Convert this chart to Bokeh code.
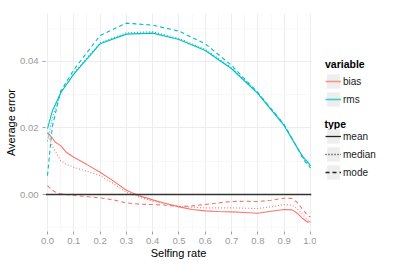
import numpy as np
from bokeh.plotting import figure
from bokeh.layouts import row
from bokeh.models import (Range1d, FixedTicker, PrintfTickFormatter, Legend,
                          LegendItem, Span, ColumnDataSource, Label)
from bokeh.embed import file_html
from bokeh.resources import INLINE

# ---------------- data ----------------
rms_x = [0.0, 0.018, 0.05, 0.1, 0.2, 0.3, 0.4, 0.5, 0.6, 0.7, 0.8, 0.9, 0.95, 0.97, 0.98, 0.99, 1.0]
rms_mean = [0.0198, 0.0250, 0.0305, 0.0362, 0.0453, 0.0482, 0.0485, 0.0466, 0.0433, 0.0378,
            0.0303, 0.0207, 0.0140, 0.0115, 0.0105, 0.0098, 0.0086]
rms_median = [0.0160, 0.0230, 0.0305, 0.0365, 0.0456, 0.0486, 0.0489, 0.0469, 0.0436, 0.0381,
              0.0306, 0.0209, 0.0141, 0.0113, 0.0102, 0.0094, 0.0082]
rms_mode = [0.0057, 0.0203, 0.0310, 0.0375, 0.0478, 0.0515, 0.0509, 0.0491, 0.0453, 0.0388,
            0.0306, 0.0210, 0.0140, 0.0110, 0.0098, 0.0092, 0.0079]

bias_x = [0.0, 0.02, 0.03, 0.05, 0.07, 0.1, 0.15, 0.2, 0.25, 0.3, 0.35, 0.4, 0.45, 0.5, 0.55,
          0.6, 0.65, 0.7, 0.75, 0.8, 0.85, 0.9, 0.93, 0.95, 0.97, 0.99, 1.0]
bias_mean = [0.0187, 0.0168, 0.0157, 0.0147, 0.0128, 0.0112, 0.0090, 0.0067, 0.0041, 0.0013,
             -0.0004, -0.0016, -0.0027, -0.0037, -0.0045, -0.0049, -0.0051, -0.0052, -0.0054,
             -0.0056, -0.0050, -0.0045, -0.0046, -0.0056, -0.0072, -0.0083, -0.0081]
bias_median = [0.0185, 0.0143, 0.0130, 0.0102, 0.0092, 0.0082, 0.0070, 0.0057, 0.0033, 0.0007,
               -0.0008, -0.0020, -0.0028, -0.0035, -0.0038, -0.0040, -0.0040, -0.0040, -0.0041,
               -0.0042, -0.0037, -0.0030, -0.0032, -0.0043, -0.0060, -0.0077, -0.0076]
bias_mode = [0.0027, 0.0012, 0.0008, 0.0002, 0.0, -0.0003, -0.0006, -0.0010, -0.0016, -0.0025,
             -0.0029, -0.0030, -0.0032, -0.0036, -0.0034, -0.0030, -0.0025, -0.0021, -0.0020,
             -0.0021, -0.0017, -0.0011, -0.0012, -0.0024, -0.0044, -0.0064, -0.0067]

x_ticks = [0.0, 0.1, 0.2, 0.3, 0.4, 0.5, 0.6, 0.7, 0.8, 0.9, 1.0]
x_minor = [0.05, 0.15, 0.25, 0.35, 0.45, 0.55, 0.65, 0.75, 0.85, 0.95]
y_ticks = [0.0, 0.02, 0.04]
y_minor = [-0.01, 0.01, 0.03, 0.05]
hline_y = 0.0

variables = ["bias", "rms"]
types = ["mean", "median", "mode"]
var_colors = {"bias": "#F8766D", "rms": "#00BFC4"}
type_dash = {"mean": "solid", "median": "1 2", "mode": "4 3"}

FONT = "Liberation Sans"

# ---------------- main figure ----------------
p = figure(width=316, height=266, output_backend="svg", toolbar_location=None,
           x_range=Range1d(-0.0076, 1.0038), y_range=Range1d(-0.0111, 0.0544),
           min_border_left=45, min_border_right=5, min_border_top=13, min_border_bottom=35)
p.outline_line_color = None
p.background_fill_color = "white"
p.border_fill_color = "white"

p.xaxis.ticker = FixedTicker(ticks=x_ticks, minor_ticks=x_minor)
p.yaxis.ticker = FixedTicker(ticks=y_ticks, minor_ticks=y_minor)
p.xaxis.formatter = PrintfTickFormatter(format="%.1f")
p.yaxis.formatter = PrintfTickFormatter(format="%.2f")

for ax in (p.xaxis, p.yaxis):
    ax.axis_line_color = None
    ax.major_tick_line_color = "#A0A0A0"
    ax.major_tick_in = 0
    ax.major_tick_out = 3
    ax.minor_tick_in = 0
    ax.minor_tick_out = 0
    ax.major_label_text_font = FONT
    ax.major_label_text_font_size = "9.5px"
    ax.major_label_text_color = "#9A9A9A"
    ax.axis_label_text_font = FONT
    ax.axis_label_text_font_size = "11px"
    ax.axis_label_text_font_style = "normal"
    ax.axis_label_text_color = "#000000"
    ax.axis_label_standoff = 0

p.yaxis.major_label_standoff = 4
p.xaxis.major_label_standoff = 3

p.xaxis.axis_label = "Selfing rate"
p.yaxis.axis_label = "Average error"

for g in (p.xgrid, p.ygrid):
    g.grid_line_color = "#EBEBEB"
    g.grid_line_width = 0.9
    g.minor_grid_line_color = "#F4F4F4"
    g.minor_grid_line_width = 0.6

series = {
    ("bias", "mean"): (bias_x, bias_mean),
    ("bias", "median"): (bias_x, bias_median),
    ("bias", "mode"): (bias_x, bias_mode),
    ("rms", "mean"): (rms_x, rms_mean),
    ("rms", "median"): (rms_x, rms_median),
    ("rms", "mode"): (rms_x, rms_mode),
}
for (var, typ), (xs, ys) in series.items():
    p.line(xs, ys, line_color=var_colors[var], line_dash=type_dash[typ], line_width=1.1)

p.add_layout(Span(location=hline_y, dimension="width", line_color="#333333", line_width=1.4))

# ---------------- legend figure ----------------
q = figure(width=83, height=266, output_backend="svg", toolbar_location=None,
           x_range=Range1d(0, 1), y_range=Range1d(0, 1), x_axis_type=None, y_axis_type=None,
           min_border_left=0, min_border_right=0, min_border_top=0, min_border_bottom=0)
q.outline_line_color = None
q.grid.visible = False
q.background_fill_color = "white"
q.border_fill_color = "white"

# invisible placeholder data (NaN) so that legend keys are drawn
dummy = ColumnDataSource(data=dict(x=np.array([np.nan]), y=np.array([np.nan])))
def key_bg():
    return q.rect(x="x", y="y", width=1, height=1, source=dummy,
                  fill_color="#EEEEEE", line_color=None)

var_items = []
for var in variables:
    bg = key_bg()
    ln = q.line(x="x", y="y", source=dummy, line_color=var_colors[var], line_width=1.6,
                line_alpha=0.75)
    var_items.append(LegendItem(label=var, renderers=[bg, ln]))
type_items = []
for typ in types:
    bg = key_bg()
    ln = q.line(x="x", y="y", source=dummy, line_color="#222222", line_dash=type_dash[typ],
                line_width=1.3)
    type_items.append(LegendItem(label=typ, renderers=[bg, ln]))

def make_legend(items, title, loc, standoff):
    lg = Legend(items=items, location=loc, orientation="vertical")
    if title:
        lg.title = title
    lg.title_text_font = FONT
    lg.title_text_font_size = "10.5px"
    lg.title_text_font_style = "bold"
    lg.title_text_color = "#000000"
    lg.title_standoff = standoff
    lg.label_text_font = FONT
    lg.label_text_font_size = "10px"
    lg.label_text_color = "#1A1A1A"
    lg.label_standoff = 2
    lg.label_height = 16
    lg.glyph_width = 16
    lg.glyph_height = 18
    lg.spacing = -2
    lg.padding = 0
    lg.margin = 0
    lg.border_line_color = None
    lg.background_fill_alpha = 0
    lg.click_policy = "none"
    return lg

q.add_layout(make_legend(var_items, "variable", (9, 123), 2))
q.add_layout(make_legend(type_items, None, (9, 50), 0))
q.add_layout(Label(text="type", x=8, y=108, x_units="screen", y_units="screen",
                   text_baseline="middle", text_align="left", text_font=FONT,
                   text_font_size="10.5px", text_font_style="bold", text_color="#000000"))

layout = row(p, q)
open("out.html", "w").write(file_html(layout, INLINE))
